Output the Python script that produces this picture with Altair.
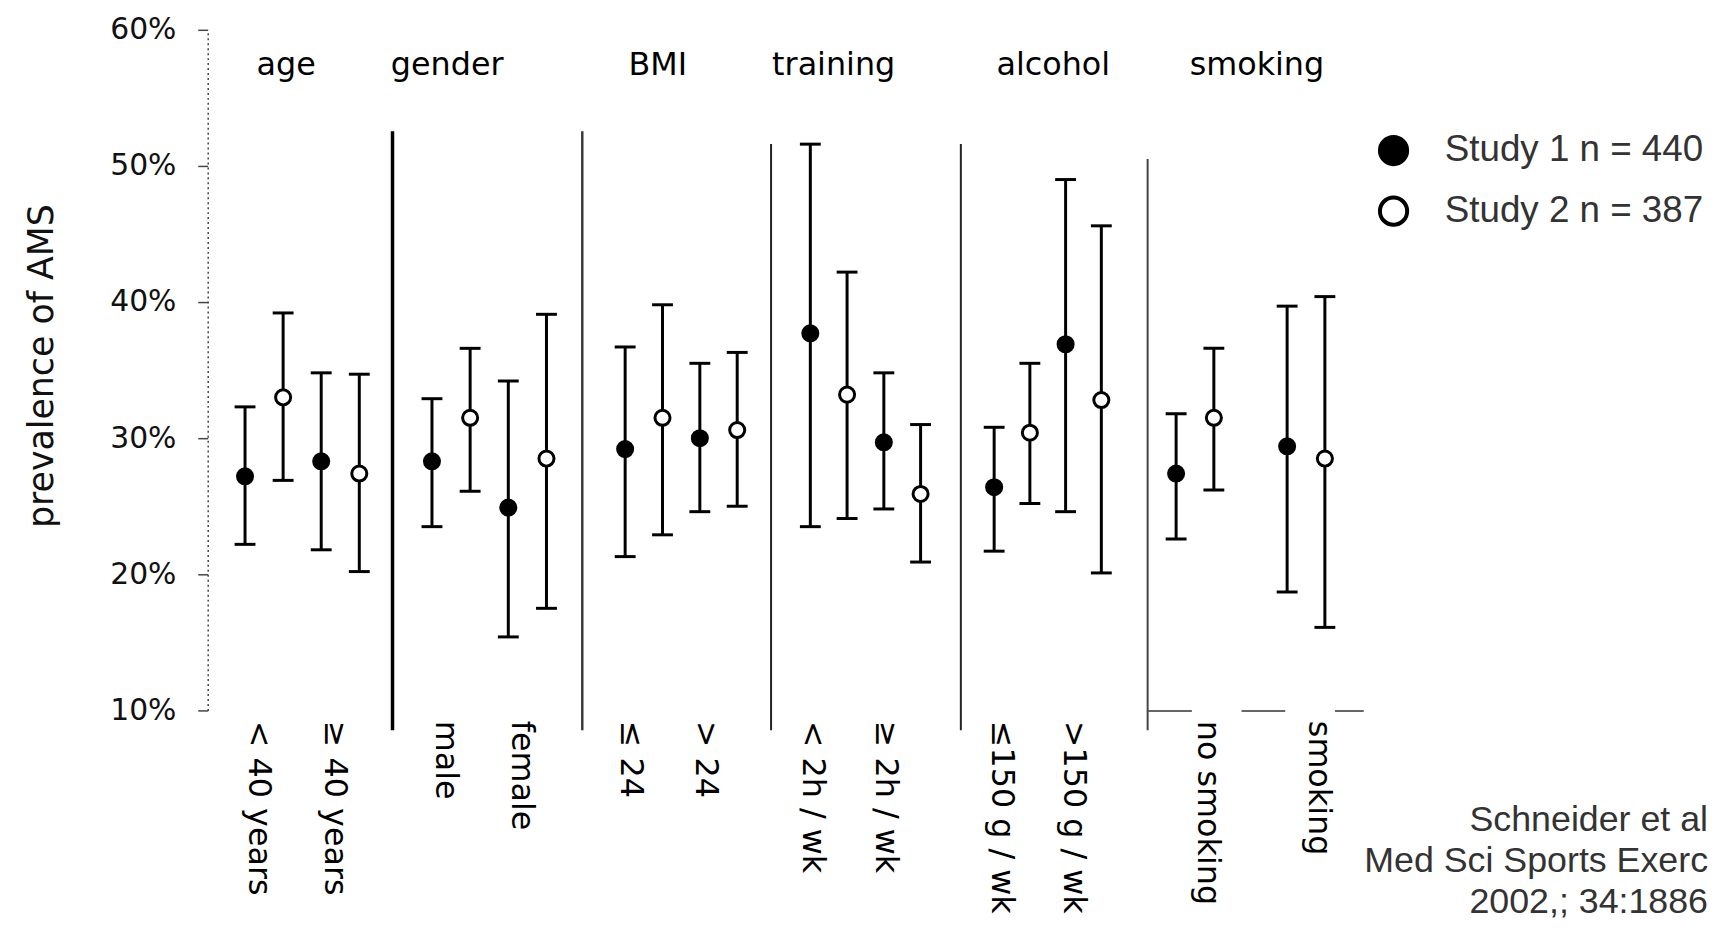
import altair as alt
import pandas as pd

# ---------------- data ----------------
groups = ["age", "gender", "BMI", "training", "alcohol", "smoking"]
categories = [
    ["< 40 years", "≥ 40 years"],
    ["male", "female"],
    ["≤ 24", "> 24"],
    ["< 2h / wk", "≥ 2h / wk"],
    ["≤150 g / wk", ">150 g / wk"],
    ["no smoking", "smoking"],
]
studies = ["Study 1 n = 440", "Study 2 n = 387"]

s1_mean = [27.2, 28.3, 28.3, 24.9, 29.2, 30.0, 37.7, 29.7, 26.4, 36.9, 27.4, 29.4]
s1_low = [22.2, 21.8, 23.5, 15.4, 21.3, 24.6, 23.5, 24.8, 21.7, 24.6, 22.6, 18.7]
s1_high = [32.3, 34.8, 32.9, 34.2, 36.7, 35.5, 51.6, 34.8, 30.8, 49.0, 31.8, 39.7]

s2_mean = [33.0, 27.4, 31.5, 28.5, 31.5, 30.6, 33.2, 25.9, 30.4, 32.8, 31.5, 28.5]
s2_low = [26.9, 20.2, 26.1, 17.5, 22.9, 25.0, 24.1, 20.9, 25.2, 20.1, 26.2, 16.1]
s2_high = [39.2, 34.7, 36.6, 39.1, 39.8, 36.3, 42.2, 31.0, 35.5, 45.6, 36.6, 40.4]

y_ticks = [10, 20, 30, 40, 50, 60]
y_title = "prevalence of AMS"
citation = ["Schneider et al", "Med Sci Sports Exerc", "2002,; 34:1886"]

# ---------------- table ----------------
rows = []
k = 0
for gi, g in enumerate(groups):
    for cat in categories[gi]:
        rows.append(dict(group=g, category=cat, study=studies[0],
                         mean=s1_mean[k], low=s1_low[k], high=s1_high[k]))
        rows.append(dict(group=g, category=cat, study=studies[1],
                         mean=s2_mean[k], low=s2_low[k], high=s2_high[k]))
        k += 1
df = pd.DataFrame(rows)

# ---------------- layout / style ----------------
PLOT_H = 685
SEP_BOTTOM = 705
layout = {
    "age":      dict(w=184, pi=0.0, po=0.20, align=0.60, lx=79, lo=-5, sep=None),
    "gender":   dict(w=189, pi=0.0, po=0.23, align=0.58, lx=55, lo=-5, sep=(102, 3.5, "#000000")),
    "BMI":      dict(w=189, pi=0.0, po=0.257, align=0.63, lx=76, lo=-13, sep=(102, 2.4, "#333333")),
    "training": dict(w=190, pi=0.0, po=0.284, align=0.5, lx=63, lo=-16, sep=(115, 2.0, "#222222")),
    "alcohol":  dict(w=187, pi=0.0, po=0.30, align=0.36, lx=93, lo=-10, sep=(115, 2.0, "#222222")),
    "smoking":  dict(w=217, pi=0.32, po=0.131, align=0.33, lx=110, lo=13, sep=(130, 2.0, "#444444")),
}
FONT = "DejaVu Sans"

y_scale = alt.Scale(domain=[10, 60], nice=False, zero=False)
first_y_axis = alt.Axis(
    values=y_ticks, labelExpr="datum.value + '%'", title=y_title,
    titleFont=FONT, titleFontSize=35, titleFontWeight="normal", titleColor="#111",
    titlePadding=51, titleY=338, labelFont=FONT, labelFontSize=30, labelColor="#111",
    labelPadding=22, tickSize=10, tickColor="#444", tickWidth=1.5,
    domainDash=[2, 3], domainColor="#444", domainWidth=1.5, grid=False,
)

legend = alt.Legend(
    title=None, orient="none", legendX=1175, legendY=103,
    symbolType="circle", symbolSize=750, symbolStrokeWidth=4,
    symbolStrokeColor="black", symbolOpacity=1, padding=0,
    labelFont="Liberation Sans", labelFontSize=37, labelColor="#333333",
    labelOffset=33, rowPadding=16, labelLimit=0,
)


def make_panel(gi, g):
    cfg = layout[g]
    d = df[df.group == g]
    base = alt.Chart(d)
    smoking = g == "smoking"
    x_axis = alt.Axis(
        title=None, labelAngle=90, labelAlign="left", labelBaseline="middle",
        labelFont=FONT, labelFontSize=32, labelColor="black", labelPadding=10,
        labelLimit=0, labelOffset=cfg["lo"], ticks=False,
        domain=smoking, domainDash=[44, 50], domainColor="#666", domainWidth=2,
        labelOverlap=False,
    )
    x = alt.X("category:N", sort=categories[gi],
              scale=alt.Scale(domain=categories[gi], paddingInner=cfg["pi"],
                              paddingOuter=cfg["po"], align=cfg["align"]),
              axis=x_axis)
    xo = alt.XOffset("study:N", scale=alt.Scale(domain=studies))
    yax = first_y_axis if gi == 0 else None

    bars = base.mark_rule(color="black", strokeWidth=3).encode(
        x=x, xOffset=xo,
        y=alt.Y("low:Q", scale=y_scale, axis=yax), y2="high:Q")
    cap_lo = base.mark_tick(color="black", size=21, thickness=3, opacity=1).encode(
        x=x, xOffset=xo, y=alt.Y("low:Q", scale=y_scale, axis=yax))
    cap_hi = base.mark_tick(color="black", size=21, thickness=3, opacity=1).encode(
        x=x, xOffset=xo, y=alt.Y("high:Q", scale=y_scale, axis=yax))
    pts = base.mark_point(shape="circle", filled=True, size=230, stroke="black",
                          strokeWidth=3, opacity=1).encode(
        x=x, xOffset=xo, y=alt.Y("mean:Q", scale=y_scale, axis=yax),
        fill=alt.Fill("study:N", scale=alt.Scale(domain=studies, range=["black", "white"]),
                      legend=legend))

    gdf = pd.DataFrame({"group": [g]})
    label = alt.Chart(gdf).mark_text(font=FONT, fontSize=32, color="black",
                                     align="center", baseline="middle").encode(
        text="group:N", x=alt.value(cfg["lx"]), y=alt.value(35))
    layers = [label, bars, cap_lo, cap_hi, pts]
    if cfg["sep"] is not None:
        top, sw, col = cfg["sep"]
        sep = alt.Chart(gdf).mark_rule(strokeWidth=sw, color=col).encode(
            x=alt.value(0), y=alt.value(top), y2=alt.value(SEP_BOTTOM))
        layers = [sep] + layers
    return alt.layer(*layers).properties(width=cfg["w"], height=PLOT_H)


panels = [make_panel(gi, g) for gi, g in enumerate(groups)]

cite = alt.Chart(pd.DataFrame({"cite": ["\n".join(citation)]})).mark_text(
    lineBreak="\n", lineHeight=41.5, font="Liberation Sans", fontSize=36,
    color="#333333", align="right", baseline="alphabetic",
).encode(text="cite:N", x=alt.value(341), y=alt.value(806)).properties(
    width=343, height=895)

chart = alt.hconcat(*panels, cite, spacing=0).resolve_scale(
    xOffset="independent"
).properties(
    padding={"left": 16, "top": 4, "right": 0, "bottom": 0},
    background="white",
).configure_view(stroke=None)

chart.save("out.html", embed_options={"renderer": "svg", "actions": False})
